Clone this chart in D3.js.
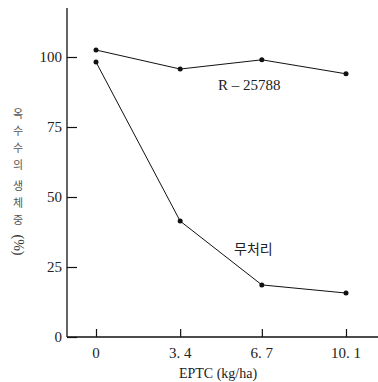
<!DOCTYPE html>
<html>
<head>
<meta charset="utf-8">
<script src="https://cdn.jsdelivr.net/npm/d3@7"></script>
<style>
  body { margin: 0; background: #fff; }
  svg { display: block; }
  .serif { font-family: "Liberation Serif", "DejaVu Serif", serif; }
  .ko { font-family: "Noto Sans CJK KR", sans-serif; }
</style>
</head>
<body>
<div id="chart"></div>
<script>
// EPTC rates and relative fresh weight of corn
const rates = [0, 3.4, 6.7, 10.1];
const rateLabels = ["0", "3. 4", "6. 7", "10. 1"];
const protectedVals = [102.5, 95.7, 99.0, 94.0];   // R-25788
const untreatedVals = [98.2, 41.4, 18.6, 15.7];    // 무처리
const yTicks = [0, 25, 50, 75, 100];

const svg = d3.select("#chart").append("svg")
  .attr("width", 378)
  .attr("height", 382);

const x = d3.scaleLinear().domain([0, 10.1]).range([96, 346]);
const y = d3.scaleLinear().domain([0, 100]).range([337, 57]);

// axis lines
svg.append("line")
  .attr("x1", 67).attr("x2", 67).attr("y1", 8).attr("y2", y(0))
  .attr("stroke", "#111").attr("stroke-width", 1.3);
svg.append("line")
  .attr("x1", 67).attr("x2", 378).attr("y1", y(0)).attr("y2", y(0))
  .attr("stroke", "#111").attr("stroke-width", 1.3);

// Y ticks (inward)
const yAxis = svg.append("g").attr("transform", "translate(67,0)")
  .call(d3.axisRight(y).tickValues(yTicks).tickSize(10).tickFormat(""));
yAxis.select(".domain").remove();
yAxis.selectAll("line").attr("stroke", "#111").attr("stroke-width", 1.2);
svg.append("g").selectAll("text")
  .data(yTicks)
  .join("text")
  .attr("class", "serif")
  .attr("x", 62)
  .attr("y", d => y(d) + 5)
  .attr("text-anchor", "end")
  .attr("font-size", 15)
  .attr("fill", "#222")
  .text(d => d);

// X ticks (inward)
const xAxis = svg.append("g").attr("transform", `translate(0,${y(0)})`)
  .call(d3.axisTop(x).tickValues(rates).tickSize(8).tickFormat(""));
xAxis.select(".domain").remove();
xAxis.selectAll("line").attr("stroke", "#111").attr("stroke-width", 1.2);
svg.append("g").selectAll("text")
  .data(rates)
  .join("text")
  .attr("class", "serif")
  .attr("x", d => x(d))
  .attr("y", 358)
  .attr("text-anchor", "middle")
  .attr("font-size", 15)
  .attr("fill", "#222")
  .text((d, i) => rateLabels[i]);

// X label
svg.append("text")
  .attr("class", "serif")
  .attr("x", 218).attr("y", 378)
  .attr("text-anchor", "middle")
  .attr("font-size", 14)
  .attr("fill", "#222")
  .text("EPTC (kg/ha)");

// Y label, stacked vertical characters
const yLabelChars = ["옥", "수", "수", "의", "생", "체", "중"];
svg.append("g").selectAll("text")
  .data(yLabelChars)
  .join("text")
  .attr("class", "ko")
  .attr("x", 18)
  .attr("y", (d, i) => 118 + i * 17 + (i > 3 ? 4 : 0))
  .attr("text-anchor", "middle")
  .attr("font-size", 11)
  .attr("fill", "#555")
  .text(d => d);
svg.append("text")
  .attr("class", "serif")
  .attr("transform", "translate(14,245) rotate(90)")
  .attr("text-anchor", "middle")
  .attr("font-size", 14)
  .attr("fill", "#333")
  .text("(%)");

// lines
const line = d3.line().x((d, i) => x(rates[i])).y(d => y(d));
[protectedVals, untreatedVals].forEach(vals => {
  svg.append("path")
    .datum(vals)
    .attr("fill", "none")
    .attr("stroke", "#111")
    .attr("stroke-width", 1)
    .attr("d", line);
  svg.append("g").selectAll("circle")
    .data(vals)
    .join("circle")
    .attr("cx", (d, i) => x(rates[i]))
    .attr("cy", d => y(d))
    .attr("r", 2.5)
    .attr("fill", "#111");
});

// series labels
svg.append("text")
  .attr("class", "serif")
  .attr("x", 218).attr("y", 90)
  .attr("font-size", 15)
  .attr("fill", "#222")
  .text("R  \u2013 25788");
svg.append("text")
  .attr("class", "ko")
  .attr("x", 234).attr("y", 254)
  .attr("font-size", 14)
  .attr("fill", "#222")
  .text("무처리");
</script>
</body>
</html>
